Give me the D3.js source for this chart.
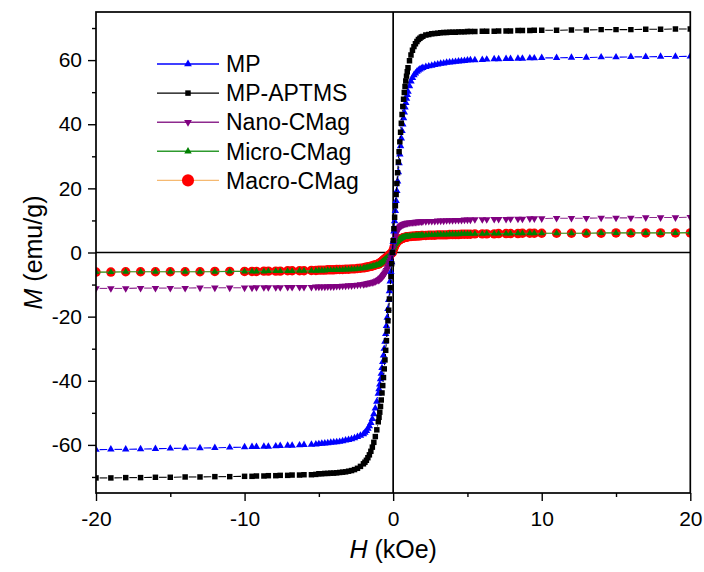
<!DOCTYPE html>
<html><head><meta charset="utf-8">
<script src="https://cdn.jsdelivr.net/npm/d3@7/dist/d3.min.js"></script>
<style>
html,body{margin:0;padding:0;background:#fff;}
svg{display:block;}
text{font-family:"Liberation Sans",Arial,sans-serif;fill:#000;}
</style></head><body>
<svg id="chart" width="704" height="572"></svg>
<script>
// ---------------- DATA ----------------
const fieldKOe = [-20,-19,-18,-17,-16,-15,-14,-13,-12,-11,
 -10,-9.5,-9.2,-8.7,-8.4,-7.9,-7.6,-7.1,-6.8,-6.3,-6,-5.5,-5.2,
 -5,-4.8,-4.6,-4.4,-4.2,-4,-3.8,-3.6,-3.4,-3.2,-3,-2.8,-2.6,-2.4,-2.2,-2,
 -1.9,-1.8,-1.7,-1.6,-1.5,-1.4,-1.3,-1.2,-1.1,
 -1,-0.95,-0.9,-0.85,-0.8,-0.75,-0.7,-0.65,-0.6,-0.55,-0.5,-0.45,-0.4,-0.35,-0.3,-0.25,-0.2,-0.15,-0.1,-0.05,
 0,0.05,0.1,0.15,0.2,0.25,0.3,0.35,0.4,0.45,0.5,0.55,0.6,0.65,0.7,0.75,0.8,0.85,0.9,0.95,1,
 1.1,1.2,1.3,1.4,1.5,1.6,1.7,1.8,1.9,
 2,2.2,2.4,2.6,2.8,3,3.2,3.4,3.6,3.8,4,4.2,4.4,4.6,4.8,5,
 5.2,5.5,6,6.3,6.8,7.1,7.6,7.9,8.4,8.7,9.2,9.5,10,
 11,12,13,14,15,16,17,18,19,20];

const mMP = [-61.5,-61.4,-61.4,-61.3,-61.2,-61.1,-61.0,-61.0,-60.9,-60.8,
 -60.7,-60.6,-60.6,-60.5,-60.5,-60.4,-60.3,-60.2,-60.2,-60.1,-60.0,-59.9,-59.8,
 -59.7,-59.6,-59.5,-59.4,-59.3,-59.2,-59.1,-59.0,-58.8,-58.6,-58.4,-58.2,-57.9,-57.5,-57.1,-56.6,
 -56.2,-55.6,-54.9,-54.1,-53.1,-51.9,-50.4,-48.6,-46.5,
 -44.0,-42.6,-41.1,-39.5,-37.8,-36.0,-34.1,-32.1,-30.0,-27.8,-25.4,-22.9,-20.3,-17.6,-14.8,-12.0,-9.0,-6.0,-3.0,0,
 3.3,6.6,9.8,13.0,16.1,19.2,22.2,25.1,27.9,30.6,33.2,35.6,37.9,40.0,41.9,43.7,45.3,46.7,48.0,49.2,50.2,
 51.9,53.4,54.5,55.3,55.9,56.4,56.8,57.1,57.4,
 57.6,57.9,58.1,58.3,58.5,58.7,58.9,59.0,59.2,59.3,59.4,59.5,59.6,59.7,59.8,59.9,
 60.0,60.0,60.1,60.2,60.3,60.3,60.4,60.4,60.5,60.5,60.6,60.6,60.7,
 60.7,60.8,60.8,60.9,60.9,61.0,61.0,61.1,61.1,61.2];

const mMPAPTMS = [-70.3,-70.3,-70.2,-70.2,-70.1,-70.1,-70.0,-70.0,-69.9,-69.9,
 -69.8,-69.8,-69.7,-69.7,-69.6,-69.6,-69.5,-69.5,-69.4,-69.4,-69.3,-69.3,-69.2,
 -69.0,-69.0,-68.9,-68.9,-68.8,-68.8,-68.7,-68.6,-68.5,-68.4,-68.2,-68.0,-67.7,-67.3,-66.7,-65.9,
 -65.4,-64.8,-64.0,-63.1,-62.0,-60.7,-59.2,-57.4,-55.3,
 -52.8,-51.4,-49.8,-48.0,-46.0,-43.8,-41.5,-39.0,-36.3,-33.5,-30.5,-27.5,-24.5,-21.3,-18.0,-14.5,-11.0,-7.5,-3.5,0,
 3.7,7.4,11.0,14.6,18.1,21.5,24.9,28.2,31.4,34.5,37.5,40.3,43.0,45.5,47.8,49.9,51.8,53.5,55.0,56.4,57.6,
 59.8,61.6,63.1,64.2,65.1,65.8,66.4,66.8,67.2,
 67.4,67.8,68.0,68.2,68.3,68.4,68.5,68.6,68.6,68.7,68.7,68.7,68.8,68.8,68.8,68.9,
 68.9,68.9,69.0,69.0,69.0,69.1,69.1,69.1,69.2,69.2,69.2,69.3,69.3,
 69.3,69.4,69.4,69.5,69.5,69.5,69.6,69.6,69.7,69.7];

const mNano = [-11.2,-11.2,-11.2,-11.1,-11.1,-11.1,-11.1,-11.0,-11.0,-11.0,
 -11.0,-11.0,-10.9,-10.9,-10.9,-10.9,-10.9,-10.8,-10.8,-10.8,-10.8,-10.8,-10.7,
 -10.7,-10.7,-10.7,-10.6,-10.6,-10.6,-10.5,-10.5,-10.4,-10.4,-10.3,-10.3,-10.2,-10.1,-10.0,-9.9,
 -9.8,-9.7,-9.6,-9.5,-9.4,-9.3,-9.2,-9.0,-8.8,
 -8.6,-8.5,-8.3,-8.1,-7.9,-7.7,-7.4,-7.1,-6.8,-6.4,-6.0,-5.5,-5.0,-4.4,-3.8,-3.1,-2.4,-1.6,-0.8,0,
 1.5,2.9,4.1,5.1,5.9,6.5,7.0,7.4,7.7,8.0,8.2,8.4,8.6,8.7,8.8,8.9,9.0,9.1,9.1,9.2,9.2,
 9.3,9.3,9.4,9.4,9.5,9.5,9.6,9.6,9.6,
 9.7,9.7,9.8,9.8,9.8,9.9,9.9,9.9,10.0,10.0,10.0,10.1,10.1,10.1,10.2,10.2,
 10.2,10.3,10.3,10.3,10.4,10.4,10.4,10.5,10.5,10.5,10.6,10.6,10.6,
 10.7,10.7,10.7,10.8,10.8,10.8,10.9,10.9,10.9,11.0];

const mMicro = [-6.1,-6.1,-6.0,-6.0,-6.0,-6.0,-6.0,-6.0,-6.0,-5.9,
 -5.9,-5.9,-5.9,-5.9,-5.8,-5.8,-5.8,-5.8,-5.8,-5.7,-5.7,-5.7,-5.7,
 -5.6,-5.6,-5.6,-5.5,-5.5,-5.5,-5.4,-5.4,-5.4,-5.3,-5.3,-5.2,-5.2,-5.1,-5.0,-4.9,
 -4.8,-4.7,-4.6,-4.5,-4.4,-4.3,-4.2,-4.1,-3.9,
 -3.8,-3.7,-3.5,-3.4,-3.2,-3.0,-2.8,-2.6,-2.4,-2.2,-2.0,-1.8,-1.6,-1.4,-1.2,-1.0,-0.8,-0.5,-0.3,0,
 0.8,1.5,2.1,2.6,3.0,3.3,3.6,3.8,4.0,4.2,4.3,4.5,4.6,4.7,4.8,4.8,4.9,4.9,5.0,5.0,5.0,
 5.1,5.1,5.2,5.2,5.2,5.3,5.3,5.3,5.4,
 5.4,5.4,5.5,5.5,5.5,5.6,5.6,5.6,5.6,5.7,5.7,5.7,5.7,5.8,5.8,5.8,
 5.8,5.8,5.8,5.9,5.9,5.9,5.9,5.9,6.0,6.0,6.0,6.0,6.0,
 6.0,6.0,6.0,6.1,6.1,6.1,6.1,6.1,6.1,6.2];

const mMacro = [-6.1,-6.1,-6.0,-6.0,-6.0,-6.0,-6.0,-6.0,-5.9,-5.9,
 -5.9,-5.9,-5.9,-5.8,-5.8,-5.8,-5.8,-5.7,-5.7,-5.7,-5.7,-5.6,-5.6,
 -5.5,-5.5,-5.5,-5.4,-5.4,-5.4,-5.3,-5.3,-5.3,-5.2,-5.2,-5.1,-5.1,-5.0,-4.9,-4.8,
 -4.7,-4.6,-4.5,-4.4,-4.3,-4.2,-4.0,-3.9,-3.7,
 -3.6,-3.5,-3.3,-3.2,-3.0,-2.8,-2.6,-2.4,-2.2,-2.0,-1.8,-1.6,-1.4,-1.2,-1.0,-0.8,-0.6,-0.4,-0.2,0,
 0.7,1.4,2.0,2.5,2.9,3.2,3.5,3.7,3.9,4.0,4.2,4.3,4.4,4.5,4.6,4.7,4.7,4.8,4.8,4.9,4.9,
 5.0,5.0,5.1,5.1,5.1,5.2,5.2,5.2,5.3,
 5.3,5.3,5.4,5.4,5.4,5.5,5.5,5.5,5.5,5.6,5.6,5.6,5.6,5.7,5.7,5.7,
 5.7,5.8,5.8,5.8,5.8,5.9,5.9,5.9,5.9,6.0,6.0,6.0,6.0,
 6.0,6.0,6.0,6.0,6.1,6.1,6.1,6.1,6.1,6.1];

const seriesNames = ["MP","MP-APTMS","Nano-CMag","Micro-CMag","Macro-CMag"];
const seriesValues = [mMP, mMPAPTMS, mNano, mMicro, mMacro];
const xMajorTicks = [-20,-10,0,10,20];
const xMinorTicks = [-15,-5,5,15];
const yMajorTicks = [-60,-40,-20,0,20,40,60];
const yMinorTicks = [-70,-50,-30,-10,10,30,50,70];
const xTitle = ["H"," (kOe)"];
const yTitle = ["M"," (emu/g)"];

// ---------------- STYLE ----------------
const styleOf = {
  "MP":         {fill:"#0000ff", line:"#0000ff", sym:d3.symbolTriangle, size:24, rot:0,   gap:true,  lsize:26},
  "MP-APTMS":   {fill:"#000000", line:"#000000", sym:d3.symbolSquare,   size:30, rot:0,   gap:true,  lsize:30},
  "Nano-CMag":  {fill:"#800080", line:"#8e2a8e", sym:d3.symbolTriangle, size:25, rot:180, gap:true,  lsize:26},
  "Micro-CMag": {fill:"#008000", line:"#2e9a2e", sym:d3.symbolTriangle, size:20, rot:0,   gap:false, lsize:24},
  "Macro-CMag": {fill:"#ff0000", line:"#f5b971", sym:d3.symbolCircle,   size:70, rot:0,   gap:false, lsize:115}
};
const drawOrder = ["Macro-CMag","Micro-CMag","Nano-CMag","MP","MP-APTMS"];

const svg = d3.select("#chart");
const L = 96, R = 690.3, T = 12, B = 493;
const x = d3.scaleLinear().domain([-20,20]).range([L,R]);
const y = d3.scaleLinear().domain([-75,75]).range([B,T]);
const font = '"Liberation Sans", Arial, sans-serif';
const fmt = d => String(d);

svg.append("defs").append("clipPath").attr("id","plotclip")
  .append("rect").attr("x",L).attr("y",T).attr("width",R-L).attr("height",B-T);

// zero lines
svg.append("line").attr("x1",x(0)).attr("x2",x(0)).attr("y1",T).attr("y2",B)
  .attr("stroke","#000").attr("stroke-width",1.7);
svg.append("line").attr("x1",L).attr("x2",R).attr("y1",y(0)).attr("y2",y(0))
  .attr("stroke","#000").attr("stroke-width",1.7);

// series
const dataFor = name => {
  const vals = seriesValues[seriesNames.indexOf(name)];
  return fieldKOe.map((h,i)=>({h, m: vals[i]}));
};
const plot = svg.append("g").attr("clip-path","url(#plotclip)");
drawOrder.forEach(name => {
  const st = styleOf[name];
  const pts = dataFor(name);
  const g = plot.append("g");
  if (st.gap) {
    const gap = 3.6;
    for (let i=0;i<pts.length-1;i++){
      const x0=x(pts[i].h), y0=y(pts[i].m), x1=x(pts[i+1].h), y1=y(pts[i+1].m);
      const dx=x1-x0, dy=y1-y0, d=Math.hypot(dx,dy);
      if (d > 2*gap+0.5){
        const ux=dx/d, uy=dy/d;
        g.append("line").attr("x1",x0+ux*gap).attr("y1",y0+uy*gap)
          .attr("x2",x1-ux*gap).attr("y2",y1-uy*gap)
          .attr("stroke",st.line).attr("stroke-width",1.1);
      }
    }
  } else {
    g.append("path").datum(pts)
      .attr("d", d3.line().x(d=>x(d.h)).y(d=>y(d.m)))
      .attr("fill","none").attr("stroke",st.line).attr("stroke-width",1.2);
  }
  const sym = d3.symbol().type(st.sym).size(st.size);
  g.selectAll("path.pt").data(pts).join("path").attr("class","pt")
    .attr("d", sym)
    .attr("transform", d=>`translate(${x(d.h)},${y(d.m)}) rotate(${st.rot})`)
    .attr("fill", st.fill);
});

// axes
const tickW = 1.4;
const ax = svg.append("g").attr("transform",`translate(0,${B})`)
  .call(d3.axisBottom(x).tickValues(xMajorTicks).tickSize(8).tickPadding(10).tickSizeOuter(0).tickFormat(fmt));
const axm = svg.append("g").attr("transform",`translate(0,${B})`)
  .call(d3.axisBottom(x).tickValues(xMinorTicks).tickSize(4).tickSizeOuter(0).tickFormat(""));
const ay = svg.append("g").attr("transform",`translate(${L},0)`)
  .call(d3.axisLeft(y).tickValues(yMajorTicks).tickSize(8).tickPadding(6).tickSizeOuter(0).tickFormat(fmt));
const aym = svg.append("g").attr("transform",`translate(${L},0)`)
  .call(d3.axisLeft(y).tickValues(yMinorTicks).tickSize(4).tickSizeOuter(0).tickFormat(""));
[ax,axm,ay,aym].forEach(a=>{
  a.select(".domain").remove();
  a.selectAll(".tick line").attr("stroke","#000").attr("stroke-width",tickW);
  a.selectAll(".tick text").attr("font-family",font).attr("font-size",21).attr("fill","#000");
});

// frame
svg.append("rect").attr("x",L).attr("y",T).attr("width",R-L).attr("height",B-T)
  .attr("fill","none").attr("stroke","#000").attr("stroke-width",1.7);

// axis titles
const xt = svg.append("text").attr("x",x(0)).attr("y",558).attr("text-anchor","middle")
  .attr("font-family",font).attr("font-size",25);
xt.append("tspan").attr("font-style","italic").text(xTitle[0]);
xt.append("tspan").text(xTitle[1]);
const yt = svg.append("text").attr("transform",`translate(42,${y(0)}) rotate(-90)`)
  .attr("text-anchor","middle").attr("font-family",font).attr("font-size",25);
yt.append("tspan").attr("font-style","italic").text(yTitle[0]);
yt.append("tspan").text(yTitle[1]);

// legend
const lg = svg.append("g");
seriesNames.forEach((name,i)=>{
  const st = styleOf[name];
  const cy = 64 + i*29.1;
  lg.append("line").attr("x1",157).attr("x2",219).attr("y1",cy).attr("y2",cy)
    .attr("stroke",st.line).attr("stroke-width",1.4);
  lg.append("path").attr("d", d3.symbol().type(st.sym).size(st.lsize))
    .attr("transform",`translate(188,${cy}) rotate(${st.rot})`).attr("fill",st.fill);
  lg.append("text").attr("x",226).attr("y",cy).attr("dy","0.36em")
    .attr("font-family",font).attr("font-size",23).text(name);
});
</script>
</body></html>
